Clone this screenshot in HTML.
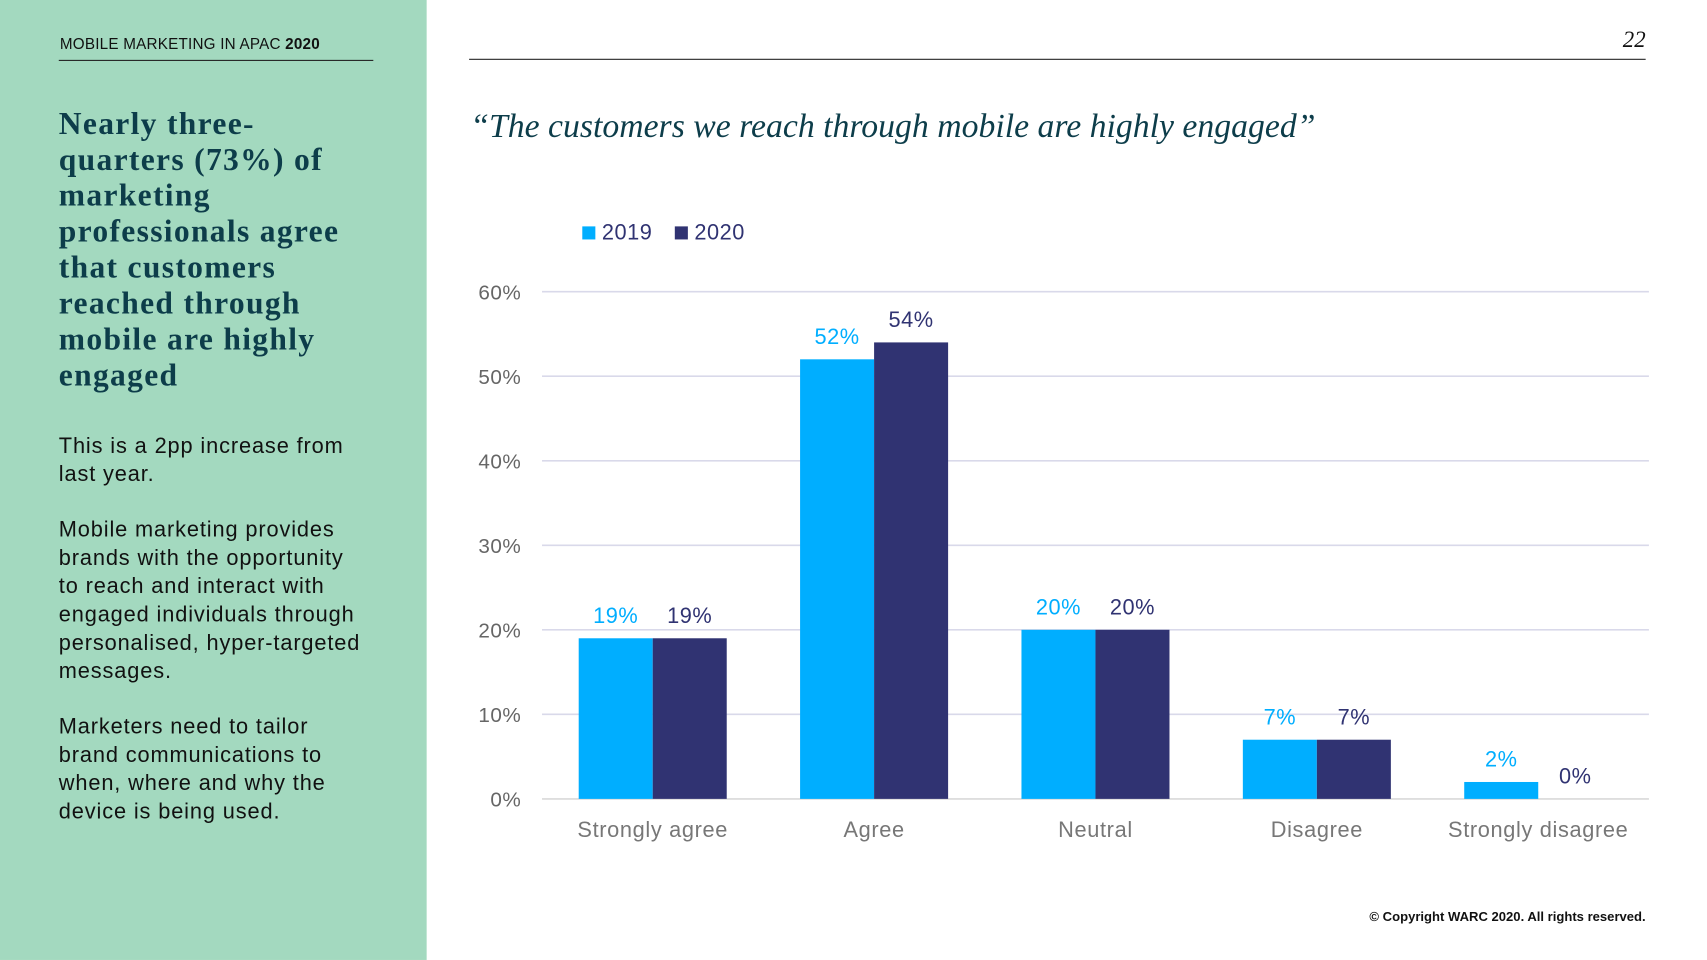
<!DOCTYPE html>
<html><head><meta charset="utf-8"><style>
html,body{margin:0;padding:0;width:1707px;height:960px;overflow:hidden;background:#fff}
#wrap{position:absolute;left:0;top:0;width:1568px;height:882px;transform:scale(1.0884,1.0884);transform-origin:0 0;font-family:"Liberation Sans",sans-serif}
.abs{position:absolute}
</style></head><body>
<div id="wrap">
<div class="abs" style="left:0;top:0;width:392px;height:882px;background:#a3d9bf"></div>
<div class="abs" style="left:55px;top:32px;font-size:14px;color:#111;letter-spacing:0.2px">MOBILE MARKETING IN APAC <b>2020</b></div>
<div class="abs" style="left:54px;top:55px;width:289px;height:1px;background:#222"></div>
<div class="abs" style="left:431px;top:54px;width:1081px;height:1px;background:#222"></div>
<div class="abs" style="left:1480px;top:24px;width:32px;text-align:right;font-family:'Liberation Serif',serif;font-style:italic;font-size:21px;color:#111">22</div>
<div class="abs" style="left:54px;top:98px;width:330px;white-space:nowrap;font-family:'Liberation Serif',serif;font-weight:bold;font-size:29px;line-height:33px;letter-spacing:1.2px;color:#0d3d4a">Nearly three-<br>quarters (73%) of<br>marketing<br>professionals agree<br>that customers<br>reached through<br>mobile are highly<br>engaged</div>
<div class="abs" style="left:54px;top:397px;width:330px;white-space:nowrap;font-size:20px;line-height:26px;letter-spacing:0.8px;color:#111">
<p style="margin:0 0 25px">This is a 2pp increase from<br>last year.</p>
<p style="margin:0 0 25px">Mobile marketing provides<br>brands with the opportunity<br>to reach and interact with<br>engaged individuals through<br>personalised, hyper-targeted<br>messages.</p>
<p style="margin:0">Marketers need to tailor<br>brand communications to<br>when, where and why the<br>device is being used.</p></div>
<div class="abs" style="left:432px;top:98px;font-family:'Liberation Serif',serif;font-style:italic;font-size:31px;color:#0d3d4a;white-space:nowrap">“The customers we reach through mobile are highly engaged”</div>
<div class="abs" style="left:1100px;top:835px;width:412px;text-align:right;font-size:12px;font-weight:bold;color:#111">© Copyright WARC 2020. All rights reserved.</div>
<svg class="abs" id="chart" style="left:0;top:0" width="1568" height="882"></svg>
</div>
<script>
const categories=["Strongly agree","Agree","Neutral","Disagree","Strongly disagree"];
const series2019=[19,52,20,7,2];
const series2020=[19,54,20,7,0];
const seriesNames=["2019","2020"];
const yTicks=[0,10,20,30,40,50,60];
const colors=["#00aeff","#303372"];
const svg=document.getElementById('chart');
const NS="http://www.w3.org/2000/svg";
const x0=498,x1=1515,y0=734,yTop=268,yMax=60;
const y=v=>y0-(v/yMax)*(y0-yTop);
const band=(x1-x0)/categories.length;
const cx=i=>x0+band*(i+0.5);
function mk(t,a,txt){const e=document.createElementNS(NS,t);for(const k in a)e.setAttribute(k,a[k]);if(txt!=null)e.textContent=txt;svg.appendChild(e);return e;}
yTicks.forEach(t=>{
 const l=mk('line',{x1:x0,x2:x1,y1:y(t),y2:y(t),stroke:t===0?'#d9d9d9':'#d9d9ea','stroke-width':1.5});
 
 
 const tx=mk('text',{x:479,y:y(t)+7,'text-anchor':'end','font-size':19,fill:'#666','letter-spacing':0.5,'font-family':'Liberation Sans, sans-serif'},t+'%');
 
 
});
const bw=68;
[series2019,series2020].forEach((s,si)=>{
 s.forEach((v,i)=>{
  const bx=cx(i)-bw+si*bw;
  const r=mk('rect',{x:bx,y:y(v),width:bw,height:y0-y(v),fill:colors[si]});
  
  
  const t=mk('text',{x:bx+bw/2,y:y(v)-14,'text-anchor':'middle','font-size':20,fill:colors[si],'letter-spacing':0.5,'font-family':'Liberation Sans, sans-serif'},v+'%');
  
  
 });
});
categories.forEach((c,i)=>{
 const t=mk('text',{x:cx(i),y:769,'text-anchor':'middle','font-size':20,fill:'#777','letter-spacing':0.6,'font-family':'Liberation Sans, sans-serif'},c);
 
 
});
seriesNames.forEach((n,si)=>{
 const lx=535+si*85;
 const r=mk('rect',{x:lx,y:208,width:12,height:12,fill:colors[si]});
 
 
 const t=mk('text',{x:lx+18,y:220,'font-size':20,fill:'#303372','letter-spacing':0.5,'font-family':'Liberation Sans, sans-serif'},n);
 
 
});
</script>
</body></html>
